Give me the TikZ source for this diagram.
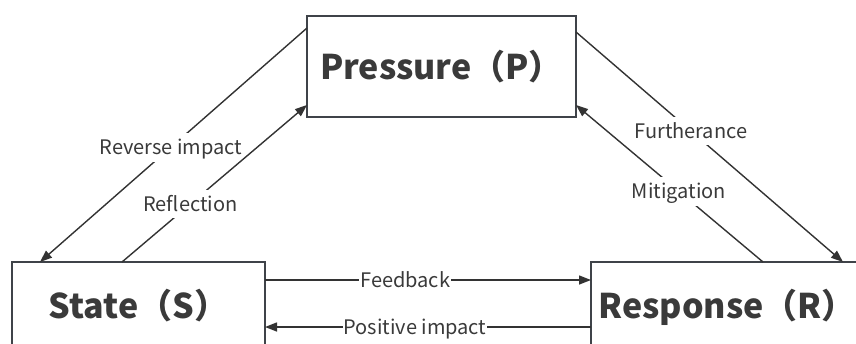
\documentclass[tikz,border=0pt]{standalone}
\usepackage{fontspec}
\setmainfont{Noto Sans CJK SC}
\usetikzlibrary{arrows.meta}
\definecolor{boxc}{HTML}{3F4349}
\definecolor{linec}{HTML}{333333}
\definecolor{txt}{HTML}{3A3A3A}
\begin{document}
\begin{tikzpicture}[x=1pt,y=-1pt,
  box/.style={draw=boxc, line width=1.8pt, inner sep=0pt, outer sep=0pt,
    text=txt, font=\bfseries\fontsize{34}{40}\selectfont,
    text height=25pt, text depth=0pt},
  bigtxt/.style={inner sep=0pt, text=txt, font=\bfseries\fontsize{34}{40}\selectfont,
    text height=25pt, text depth=0pt},
  conn/.style={draw=linec, line width=1.4pt, -{Triangle[length=12pt,width=9pt]}},
  lbl/.style={fill=white, text=txt, inner xsep=3pt, inner ysep=7pt,
    font=\fontsize{20}{24}\selectfont, text height=14.5pt, text depth=0pt}
]
\useasboundingbox (0,0) rectangle (856,343);
\clip (0,0) rectangle (856,343);
\node[box, minimum width=269pt, minimum height=101pt] (P) at (441.5,66.5) {Pressure（P）};
\node[box, minimum width=253pt, minimum height=87pt] (S) at (138.5,305.5) {State（S）};
\node[box, minimum width=282pt, minimum height=87pt] (R) at (732,305.5) {};
\node[bigtxt] (Rt) at (727,305.5) {Response（R）};

\draw[conn] ([yshift=-12pt]P.north west) -- node[lbl, pos=0.51] {Reverse impact} ([xshift=28pt]S.north west);
\draw[conn] ([xshift=110pt]S.north west) -- node[lbl, pos=0.37] {Reflection} ([yshift=12pt]P.south west);
\draw[conn] ([yshift=-16pt]P.north east) -- node[lbl, pos=0.43] {Furtherance} ([xshift=252pt]R.north west);
\draw[conn] ([xshift=172pt]R.north west) -- node[lbl, pos=0.45] {Mitigation} ([yshift=12pt]P.south east);
\draw[conn] ([yshift=-18pt]S.north east) -- node[lbl, pos=0.43, inner xsep=1pt] {Feedback} ([yshift=-18pt]R.north west);
\draw[conn] ([yshift=-65pt]R.north west) -- node[lbl, pos=0.54, inner xsep=1pt] {Positive impact} ([yshift=-65pt]S.north east);
\end{tikzpicture}
\end{document}
